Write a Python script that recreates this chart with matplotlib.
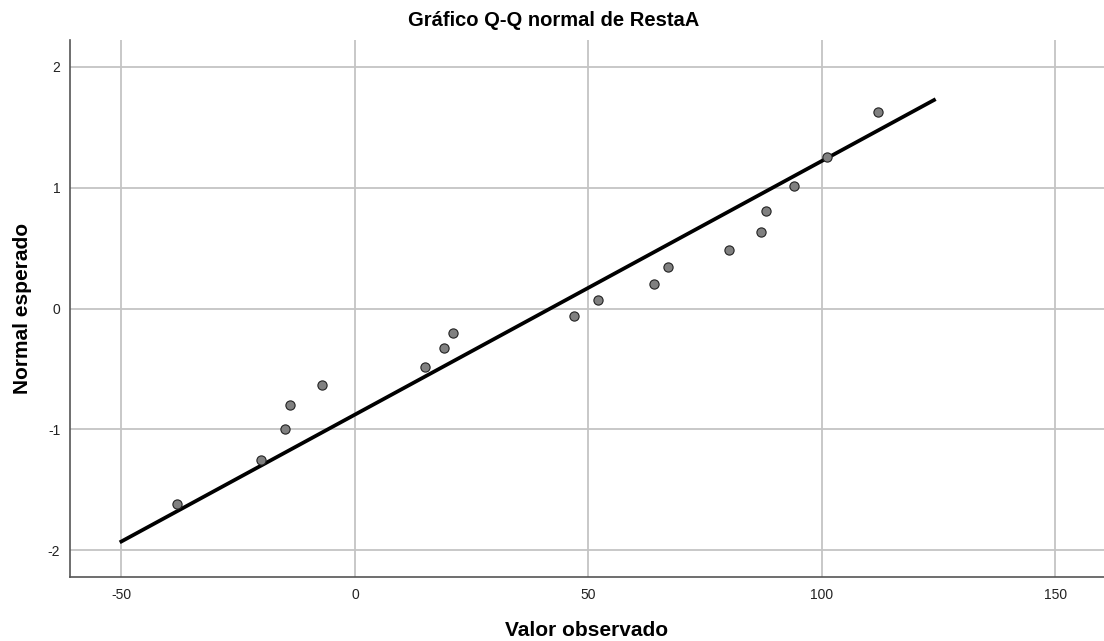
import numpy as np
import matplotlib
matplotlib.use("Agg")
import matplotlib.pyplot as plt

plt.rcParams['font.family'] = ['Liberation Sans', 'DejaVu Sans']
plt.rcParams['axes.unicode_minus'] = False

observed = [-38, -20, -15, -14, -7, 15, 19, 21, 47, 52, 64, 67, 80, 87, 88, 94, 101, 112]
expected = [-1.62, -1.25, -1.00, -0.80, -0.63, -0.48, -0.33, -0.20, -0.065,
            0.07, 0.205, 0.34, 0.485, 0.635, 0.81, 1.01, 1.255, 1.625]
line_x = [-50, 124]
xticks = [-50, 0, 50, 100, 150]
yticks = [-2, -1, 0, 1, 2]

obs = np.array(observed, dtype=float)
mu = obs.mean()
sd = obs.std(ddof=1)
lx = np.array(line_x, dtype=float)
ly = (lx - mu) / sd

fig = plt.figure(figsize=(11.04, 6.41), dpi=100)
ax = fig.add_axes([70 / 1104, 64 / 641, 1 - 70 / 1104, 537 / 641])

ax.set_xlim(-61, 160.4)
ax.set_ylim(-2.22, 2.22)
ax.set_xticks(xticks)
ax.set_yticks(yticks)
ax.grid(True, color='#c4c4c4', linewidth=1.3)
ax.set_axisbelow(True)
ax.tick_params(length=0, labelsize=10, colors='#222222')
ax.tick_params(axis='x', pad=8)
ax.tick_params(axis='y', pad=7)

for s in ['top', 'right']:
    ax.spines[s].set_visible(False)
for s in ['left', 'bottom']:
    ax.spines[s].set_color('#555555')
    ax.spines[s].set_linewidth(1.2)

ax.plot(lx, ly, color='black', linewidth=2.7, zorder=3)
ax.scatter(obs, expected, s=44, color='#808080', edgecolor='#222222',
           linewidth=0.8, zorder=4)

ax.set_xlabel('Valor observado', fontsize=15, fontweight='bold', va='center')
ax.xaxis.set_label_coords(0.5, -53 / 537)
ax.set_ylabel('Normal esperado', fontsize=15, fontweight='bold', va='center')
ax.yaxis.set_label_coords(-47 / 1034, 0.5)
fig.text(554 / 1104, 1 - 21 / 641, 'Gráfico Q-Q normal de RestaA',
         ha='center', va='center', fontsize=14.5, fontweight='bold')

fig.savefig('out.png', dpi=100)
